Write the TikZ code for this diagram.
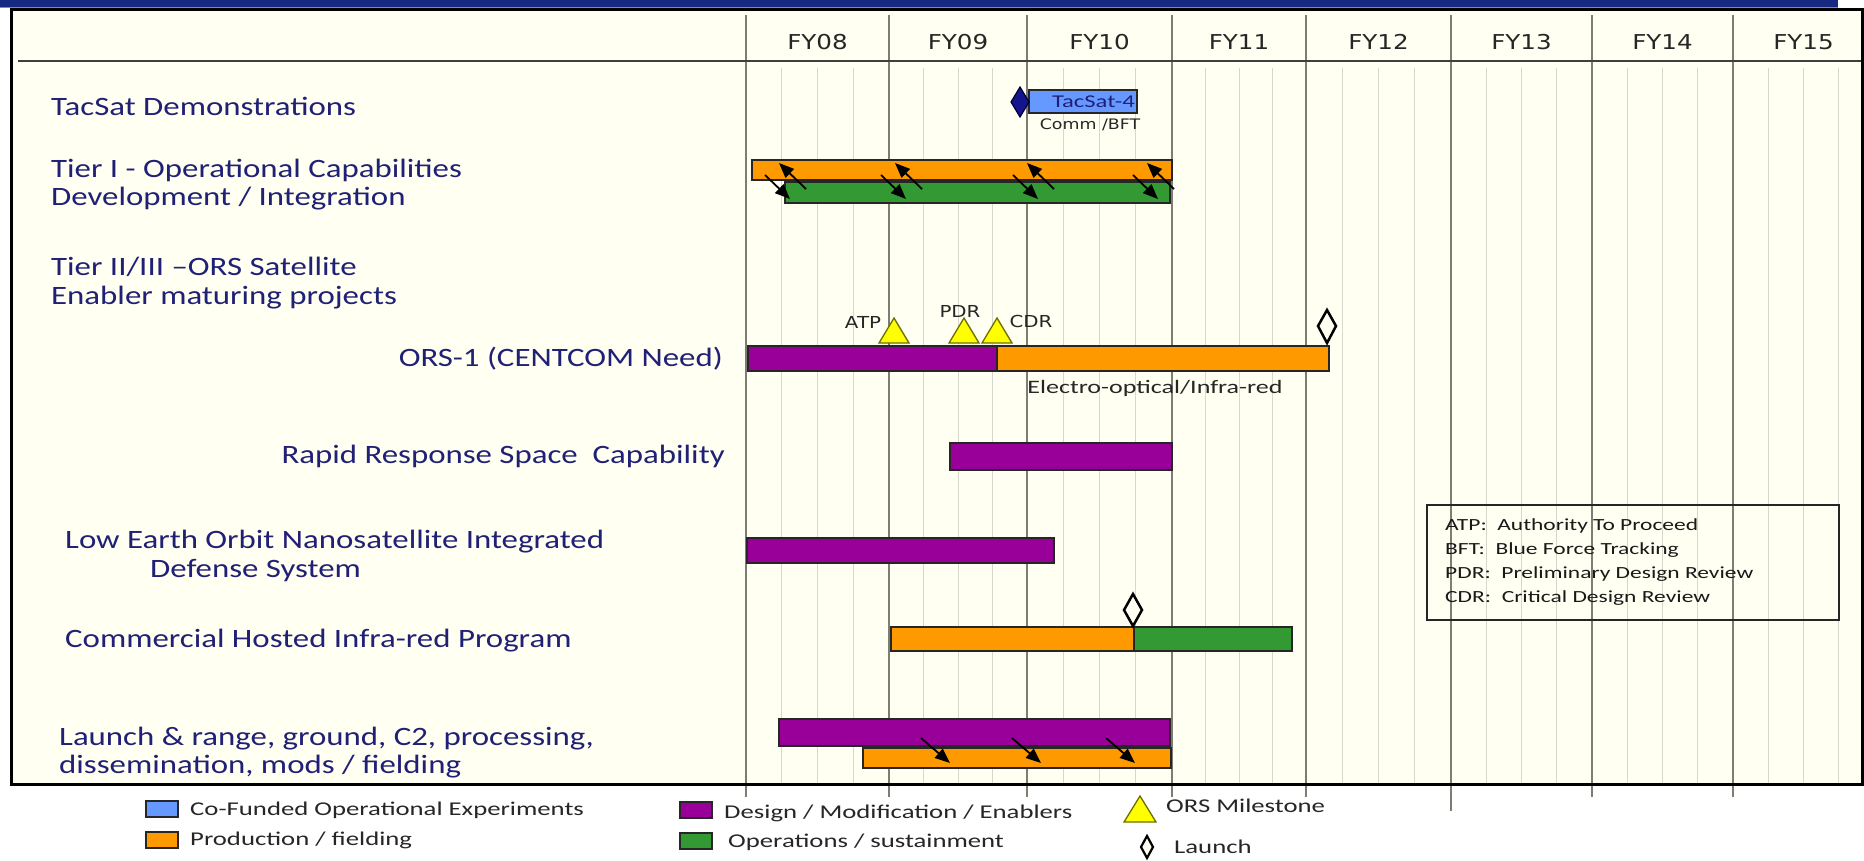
\documentclass[tikz,border=0pt]{standalone}
\usepackage{fontspec}
\setmainfont[FakeStretch=1.24]{Carlito}
\newfontfamily\legfont[FakeStretch=1.37]{Carlito}
\newfontfamily\acrfont[FakeStretch=1.38]{Carlito}
\newfontfamily\fyfont[FakeStretch=1.2]{DejaVu Sans}
\usetikzlibrary{arrows.meta}
\definecolor{navy}{RGB}{32,32,118}
\definecolor{cream}{RGB}{255,255,242}
\definecolor{bandblue}{RGB}{22,42,130}
\definecolor{bandlight}{RGB}{110,140,200}
\definecolor{orsorange}{RGB}{255,153,0}
\definecolor{orsgreen}{RGB}{51,153,51}
\definecolor{orspurple}{RGB}{153,0,153}
\definecolor{orsblue}{RGB}{102,153,255}
\definecolor{orsyellow}{RGB}{255,255,0}
\definecolor{olive}{RGB}{110,110,0}
\definecolor{majorgray}{RGB}{125,125,115}
\definecolor{minorgray}{RGB}{215,215,205}
\definecolor{diamblue}{RGB}{20,20,140}
\tikzset{
  minorline/.style={draw=minorgray, line width=1pt},
  majorline/.style={draw=majorgray, line width=1.6pt},
  bar/.style={draw=black!85, line width=1.5pt},
  arr/.style={draw=black, line width=1.8pt, -{Triangle[length=15pt,width=12pt]}},
  ms/.style={fill=orsyellow, draw=olive, line width=1.3pt, line join=miter},
  launchd/.style={fill=cream, draw=black, line width=2.5pt, line join=miter},
  rowlab/.style={inner sep=0pt, anchor=base west, text=navy, font=\fontsize{26.5}{30}\selectfont},
  rowlabr/.style={inner sep=0pt, anchor=base east, text=navy, font=\fontsize{26.5}{30}\selectfont},
  fylab/.style={inner sep=0pt, text=black!85, font=\fyfont\fontsize{20.5}{24}\selectfont},
  small/.style={inner sep=0pt, text=black!85, font=\fyfont\fontsize{16.5}{18}\selectfont},
  leglab/.style={inner sep=0pt, anchor=base west, text=black!85, font=\legfont\fontsize{19.5}{22}\selectfont},
  acrlab/.style={inner sep=0pt, anchor=base west, text=black!90, font=\acrfont\fontsize{17}{20}\selectfont},
}
\begin{document}
\begin{tikzpicture}[x=1pt,y=-1pt]
\useasboundingbox (0,0) rectangle (1864,860);
\fill[white] (0,0) rectangle (1864,860);
\fill[cream] (11,9) rectangle (1862,784);
\fill[bandblue] (0,0) rectangle (1838,7);
\draw[bandlight, line width=1pt] (0,7.5) -- (1838,7.5);

% minor quarter lines
\foreach \a/\b in {746/889,889/1027,1027/1172,1172/1306,1306/1451,1451/1592,1592/1733,1733/1874}{
  \foreach \k in {1,2,3}{
    \draw[minorline] ({\a+\k*(\b-\a)/4},68) -- ({\a+\k*(\b-\a)/4},784);
  }
}
% major year lines
\foreach \x in {746,889,1027,1172,1306,1592,1733}{
  \draw[majorline] (\x,15) -- (\x,797);
}
\draw[majorline] (1451,15) -- (1451,811);

% header line and frame
\draw[draw=black!75, line width=1.6pt] (18,61) -- (1862,61);
\draw[black, line width=3pt] (11,9) rectangle (1862,784);

% year labels
\foreach \t/\a/\b in {FY08/746/889,FY09/889/1027,FY10/1027/1172,FY11/1172/1306,FY12/1306/1451,FY13/1451/1592,FY14/1592/1733,FY15/1733/1874}{
  \node[fylab] (lab\t) at ({(\a+\b)/2},42) {\t};
}

% row labels
\node[rowlab] (tacsat) at (51,115) {TacSat Demonstrations};
\node[rowlab] (tier1a) at (51,177) {Tier I - Operational Capabilities};
\node[rowlab] (tier1b) at (51,205) {Development / Integration};
\node[rowlab] (tier2a) at (51,275) {Tier II/III –ORS Satellite};
\node[rowlab] (tier2b) at (51,304) {Enabler maturing projects};
\node[rowlabr] (ors1) at (723,366) {ORS-1 (CENTCOM Need)};
\node[rowlabr] (rrsc) at (725,463) {Rapid Response Space\ \ Capability};
\node[rowlab] (leoa) at (65,548) {Low Earth Orbit Nanosatellite Integrated};
\node[rowlab] (leob) at (150,577) {Defense System};
\node[rowlab] (chirp) at (65,647) {Commercial Hosted Infra-red Program};
\node[rowlab] (lrga) at (59,745) {Launch \& range, ground, C2, processing,};
\node[rowlab] (lrgb) at (59,773) {dissemination, mods / fielding};

% TacSat
\draw[bar, fill=orsblue] (1029,90) rectangle (1137,113);
\node[inner sep=0pt, anchor=east, text=navy, font=\legfont\fontsize{18}{20}\selectfont] (ts4) at (1135,102) {TacSat-4};
\node[small, font=\fyfont\fontsize{14.5}{16}\selectfont] (commbft) at (1090,125) {Comm /BFT};
\draw[fill=diamblue, draw=black!80!blue, line width=1.2pt] (1020,87) -- (1029,102) -- (1020,117) -- (1011,102) -- cycle;

% Tier I
\draw[bar, fill=orsorange] (752,160) rectangle (1172,180);
\draw[bar, fill=orsgreen] (785,182) rectangle (1170,203);
\foreach \p [count=\i] in {779,895,1027,1147}{
  \coordinate (ua\i) at ({\p+27},189);
  \coordinate (ub\i) at (\p,163);
  \coordinate (da\i) at ({\p-14},175);
  \coordinate (db\i) at ({\p+11},199);
  \draw[arr] (ua\i) -- (ub\i);
  \draw[arr] (da\i) -- (db\i);
}

% ORS-1
\draw[bar, fill=orspurple] (748,346) rectangle (997,371);
\draw[bar, fill=orsorange] (997,346) rectangle (1329,371);
\draw[ms] (879,343) -- (909,343) -- (894,318) -- cycle;
\draw[ms] (949,343) -- (979,343) -- (964,318) -- cycle;
\draw[ms] (982,343) -- (1012,343) -- (997,318) -- cycle;
\node[small] (atp) at (863,322) {ATP};
\node[small] (pdr) at (960,311) {PDR};
\node[small] (cdr) at (1031,321) {CDR};
\draw[launchd] (1327,310) -- (1336,326) -- (1327,343) -- (1318,326) -- cycle;
\node[inner sep=0pt, text=black!85, font=\legfont\fontsize{19}{20}\selectfont] (eoir) at (1155,388) {Electro-optical/Infra-red};

% Rapid Response
\draw[bar, fill=orspurple] (950,443) rectangle (1172,470);

% LEO
\draw[bar, fill=orspurple] (747,538) rectangle (1054,563);

% CHIRP
\draw[bar, fill=orsorange] (891,627) rectangle (1134,651);
\draw[bar, fill=orsgreen] (1134,627) rectangle (1292,651);
\draw[launchd] (1133,594) -- (1142,610) -- (1133,626) -- (1124,610) -- cycle;

% Launch & range
\draw[bar, fill=orspurple] (779,719) rectangle (1170,746);
\draw[bar, fill=orsorange] (863,748) rectangle (1171,768);
\foreach \p [count=\i] in {921,1012,1106}{
  \coordinate (la\i) at (\p,738);
  \coordinate (lb\i) at ({\p+29},763);
  \draw[arr] (la\i) -- (lb\i);
}

% acronym box
\draw[black!85, line width=1.5pt] (1427,505) rectangle (1839,620);
\node[acrlab] (acr1) at (1445,530) {ATP:\ \ Authority To Proceed};
\node[acrlab] (acr2) at (1445,554) {BFT:\ \ Blue Force Tracking};
\node[acrlab] (acr3) at (1445,578) {PDR:\ \ Preliminary Design Review};
\node[acrlab] (acr4) at (1445,602) {CDR:\ \ Critical Design Review};

% legend
\draw[bar, line width=1.3pt, fill=orsblue] (146,801) rectangle (178,817);
\node[leglab] (lg1) at (190,815) {Co-Funded Operational Experiments};
\draw[bar, line width=1.3pt, fill=orsorange] (146,832) rectangle (178,848);
\node[leglab] (lg2) at (190,845) {Production / fielding};
\draw[bar, line width=1.3pt, fill=orspurple] (680,802) rectangle (712,818);
\node[leglab] (lg3) at (724,818) {Design / Modification / Enablers};
\draw[bar, line width=1.3pt, fill=orsgreen] (680,833) rectangle (712,849);
\node[leglab] (lg4) at (728,847) {Operations / sustainment};
\draw[ms] (1124,822) -- (1156,822) -- (1140,796) -- cycle;
\node[leglab] (lg5) at (1166,812) {ORS Milestone};
\draw[launchd, line width=2.2pt] (1147,836) -- (1153,847) -- (1147,858) -- (1141,847) -- cycle;
\node[leglab] (lg6) at (1174,853) {Launch};
\end{tikzpicture}
\end{document}
